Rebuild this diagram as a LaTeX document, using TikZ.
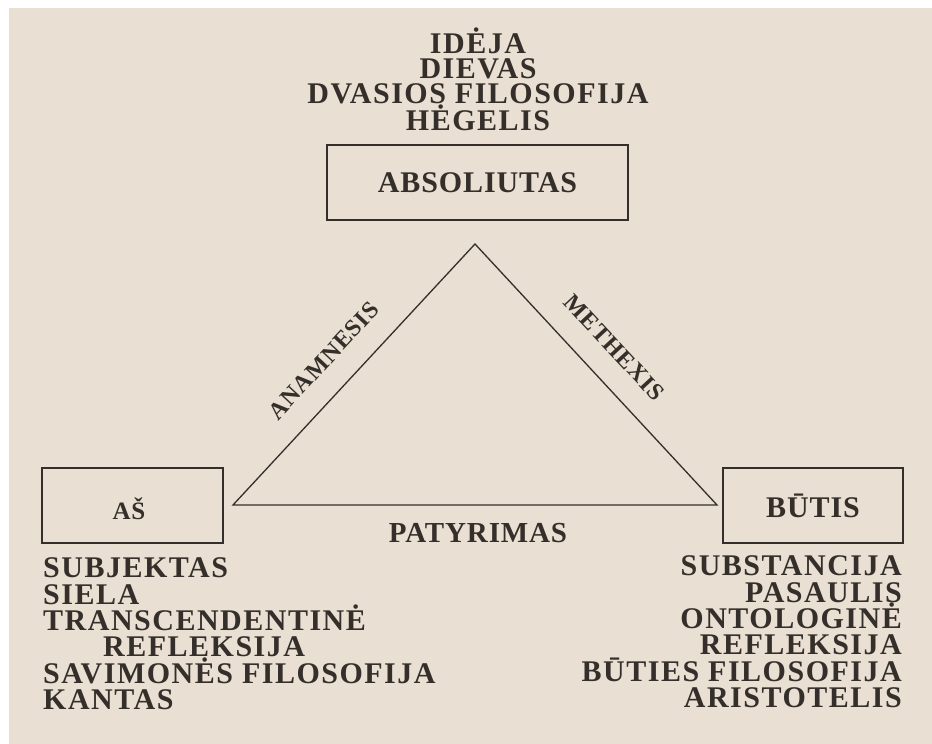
\documentclass[tikz,border=0pt]{standalone}
\usepackage{fontspec}
\newfontfamily\diagfont[LetterSpace=3]{Liberation Serif}
\newfontfamily\listfont[LetterSpace=5]{Liberation Serif}
\definecolor{paper}{RGB}{233,223,210}
\definecolor{ink}{RGB}{52,47,42}
\begin{document}
\begin{tikzpicture}[x=1pt,y=-1pt,
    box/.style={draw=ink,line width=1.5pt,minimum height=75pt},
    word/.style={text=ink,inner sep=0pt,font=\diagfont\bfseries\fontsize{30}{30}\selectfont},
    listword/.style={text=ink,inner sep=0pt,font=\listfont\bfseries\fontsize{30}{26.4}\selectfont},
    edgeword/.style={text=ink,inner sep=0pt,sloped,above=23pt,font=\diagfont\bfseries\fontsize{24}{24}\selectfont}]
      \fill[white] (0,0) rectangle (932,744) ;
      \fill[paper] (9,8) rectangle (932,744) ;
      % top corner
      \node[listword,align=center,font=\listfont\bfseries\fontsize{30}{25}\selectfont] %
      (ideja) at (478,79) {IDĖJA\\DIEVAS\\DVASIOS FILOSOFIJA\\HĖGELIS} ;
      \node[word,box,minimum width=301pt] (absol) at (477.5,182.5) {ABSOLIUTAS} ;
      % bottom corners
      \node[box,minimum width=181pt] (as) at (132.5,505.5) {} ;
      \node[word,font=\diagfont\bfseries\fontsize{25}{25}\selectfont] (aslbl) at (129,509) {AŠ} ;
      \node[word,box,minimum width=180pt] (butis) at (813,505.5) {BŪTIS} ;
      % triangle
      \coordinate (top) at (475,244) ;
      \coordinate (left) at (233,505) ;
      \coordinate (right) at (717,505) ;
      \draw[ink,line width=1.3pt] (left) -- node[pos=0.47,edgeword]{ANAMNESIS} (top) %
      -- node[pos=0.48,edgeword]{METHEXIS} (right) -- cycle ;
      \node[word,font=\diagfont\bfseries\fontsize{29}{29}\selectfont] (patyr) at (478,533) {PATYRIMAS} ;
      % lists
      \node[listword,align=left,anchor=west] (kantas) at (43,634) %
      {SUBJEKTAS\\SIELA\\TRANSCENDENTINĖ\\\hspace*{60pt}REFLEKSIJA\\SAVIMONĖS FILOSOFIJA\\KANTAS} ;
      \node[listword,align=right,anchor=east] (aristo) at (902,632) %
      {SUBSTANCIJA\\PASAULIS\\ONTOLOGINĖ\\REFLEKSIJA\hspace*{17pt}\\BŪTIES FILOSOFIJA\\ARISTOTELIS} ;
    \end{tikzpicture}
\end{document}
